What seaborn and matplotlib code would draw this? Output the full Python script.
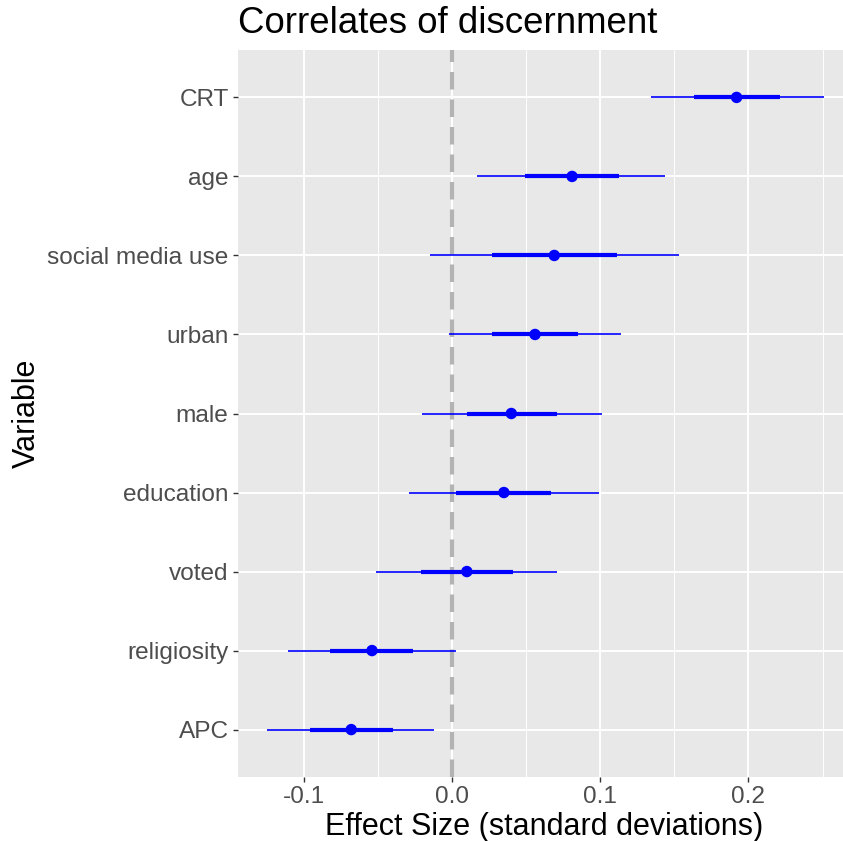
import numpy as np
import pandas as pd
import matplotlib
matplotlib.use("Agg")
import matplotlib.pyplot as plt
import seaborn as sns
from matplotlib.ticker import MultipleLocator, FormatStrFormatter

# Effect estimates with 50% (inner) and 95% (outer) intervals, top to bottom
variables = ["CRT", "age", "social media use", "urban", "male",
             "education", "voted", "religiosity", "APC"]
estimate = [0.192, 0.081, 0.069, 0.056, 0.040, 0.035, 0.010, -0.054, -0.068]
inner_lo = [0.163, 0.049, 0.027, 0.027, 0.010, 0.003, -0.021, -0.082, -0.096]
inner_hi = [0.221, 0.113, 0.111, 0.085, 0.071, 0.067, 0.041, -0.026, -0.040]
outer_lo = [0.134, 0.017, -0.015, -0.002, -0.020, -0.029, -0.051, -0.111, -0.125]
outer_hi = [0.251, 0.144, 0.153, 0.114, 0.101, 0.099, 0.071, 0.003, -0.012]
x_ticks = [-0.1, 0.0, 0.1, 0.2]

df = pd.DataFrame({
    "variable": variables,
    "estimate": estimate,
    "inner_lo": inner_lo, "inner_hi": inner_hi,
    "outer_lo": outer_lo, "outer_hi": outer_hi,
})
df["pos"] = np.arange(len(df))

sns.set_theme(style="darkgrid")
plt.rcParams["font.family"] = ["Liberation Sans", "DejaVu Sans"]

W, H = 843, 841
fig = plt.figure(figsize=(W / 100, H / 100), dpi=100)
ax = fig.add_axes([238 / W, 1 - 777 / H, (843 - 238) / W, (777 - 50) / H])
ax.set_facecolor("#E8E8E8")

# Reference line at zero
ax.axvline(0, color="#B3B3B3", lw=3, dashes=(4.2, 2.4), zorder=1.5)

# Intervals
ax.hlines(df["pos"], df["outer_lo"], df["outer_hi"], color="#0000FF", lw=1.2, zorder=2)
ax.hlines(df["pos"], df["inner_lo"], df["inner_hi"], color="#0000FF", lw=3.0, zorder=2.5)
sns.scatterplot(data=df, x="estimate", y="pos", color="#0000FF", s=68,
                edgecolor="none", ax=ax, zorder=3)

ax.set_xlim(-0.1444, 0.2638)
ax.set_ylim(len(df) - 1 + 0.6, -0.6)
ax.set_yticks(df["pos"])
ax.set_yticklabels(df["variable"])
ax.set_xticks(x_ticks)
ax.xaxis.set_major_formatter(FormatStrFormatter("%.1f"))
ax.xaxis.set_minor_locator(MultipleLocator(0.05))

ax.grid(which="major", color="white", lw=1.4)
ax.grid(which="minor", axis="x", color="white", lw=0.7)
ax.set_axisbelow(True)
for s in ax.spines.values():
    s.set_visible(False)

ax.tick_params(axis="both", which="major", length=3.8, width=1.0, color="#333333",
               labelsize=17.6, labelcolor="#4D4D4D", pad=3, bottom=True, left=True)
ax.tick_params(axis="both", which="minor", length=0)

ax.set_xlabel("")
ax.set_ylabel("")
fig.text((238 + 843) / 2 / W + 4 / W, 1 - 835 / H, "Effect Size (standard deviations)",
         ha="center", va="baseline", fontsize=22, color="black")
fig.text(26.4 / W, 1 - 413.5 / H, "Variable", rotation=90,
         ha="center", va="center", fontsize=22, color="black")
fig.text(238 / W, 1 - 33 / H, "Correlates of discernment",
         ha="left", va="baseline", fontsize=26.4, color="black")

fig.savefig("out.png", dpi=100, facecolor="white")
